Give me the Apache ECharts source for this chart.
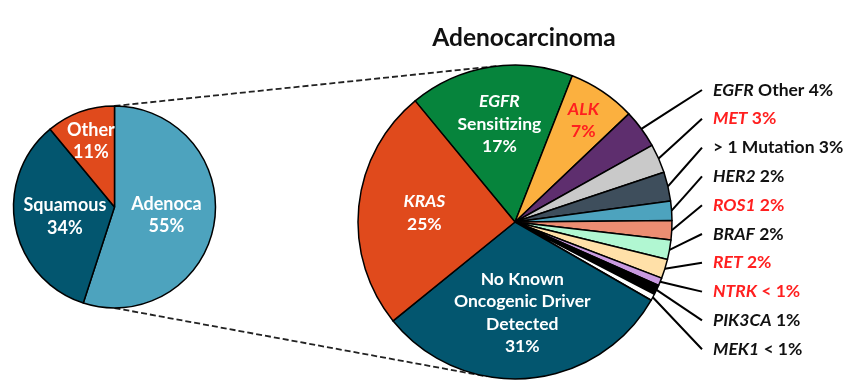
<!DOCTYPE html>
<html><head><meta charset="utf-8">
<script src="https://cdn.jsdelivr.net/npm/echarts@6/dist/echarts.min.js"></script>
<style>html,body{margin:0;padding:0;background:#fff}#c{width:866px;height:388px}</style>
</head><body><div id="c"></div>
<script>
// ---- data ----
const overviewCategories = ['Adenoca', 'Squamous', 'Other'];
const overviewValues = [55, 34, 11];
const overviewLabels = ['55%', '34%', '11%'];

const adenoCategories = ['EGFR Sensitizing', 'ALK', 'EGFR Other', 'MET', '> 1 Mutation', 'HER2', 'ROS1', 'BRAF', 'RET', 'NTRK', 'PIK3CA', 'MEK1', 'No Known Oncogenic Driver Detected', 'KRAS'];
const adenoValues = [17, 7, 4, 3, 3, 2, 2, 2, 2, 0.8, 1, 0.7, 31, 25];
const adenoLabels = ['17%', '7%', '4%', '3%', '3%', '2%', '2%', '2%', '2%', '< 1%', '1%', '< 1%', '31%', '25%'];
const geneNames = ['EGFR', 'ALK', 'MET', 'HER2', 'ROS1', 'BRAF', 'RET', 'NTRK', 'PIK3CA', 'MEK1', 'KRAS'];
const highlightedGenes = ['ALK', 'MET', 'ROS1', 'RET', 'NTRK'];
const insideCategories = ['EGFR Sensitizing', 'ALK', 'No Known Oncogenic Driver Detected', 'KRAS'];
const insideLineBreaks = {
  'EGFR Sensitizing': ['EGFR', 'Sensitizing'],
  'No Known Oncogenic Driver Detected': ['No Known', 'Oncogenic Driver', 'Detected']
};
const chartTitle = 'Adenocarcinoma';

// ---- styles / layout ----
const overviewColors = ['#4DA3BE', '#03566F', '#E04A1C'];
const adenoColors = ['#06843C', '#FBB03F', '#5E2E6E', '#C9C9C9', '#3E4E5C', '#4DA3BE', '#EC8D72', '#B1F7D2', '#FFE0A8', '#C99AE0', '#000000', '#FFFFFF', '#03566F', '#E04A1C'];
const RED = '#FF1F1F';
const FONT = 'Lato';
const LC = [114.5, 207], LR = 101;
const RC = [515, 222], RR = 157;
const RIGHT_START_DEG = -39.5; // clockwise from 12 o'clock
const overviewInsideFactor = [0.52, 0.5, 0.69];
const adenoInsideFactor = {0: 0.63, 1: 0.78, 12: 0.58, 13: 0.58};
const LABEL_X = 713, LINE_END_X = 702, LABEL_TOP = 90, LABEL_STEP = 28.8;

function midAngles(values, startDeg) {
  const total = values.reduce((a, b) => a + b, 0);
  let acc = 0;
  return values.map(v => {
    const m = (startDeg + (acc + v / 2) / total * 360) * Math.PI / 180;
    acc += v;
    return m;
  });
}
const overviewMid = midAngles(overviewValues, 0);
const adenoMid = midAngles(adenoValues, RIGHT_START_DEG);

function fmtLine(text, base) {
  const sp = text.indexOf(' ');
  const first = sp < 0 ? text : text.slice(0, sp);
  const rest = sp < 0 ? '' : text.slice(sp);
  if (geneNames.indexOf(first) >= 0) {
    return '{' + base + 'i|' + first + '}' + (rest ? '{' + base + '|' + rest + '}' : '');
  }
  return '{' + base + '|' + text + '}';
}

const IN_SIZE = 17.5, OUT_SIZE = 17.5, LEFT_SIZE = 18;
const richStyles = {
  w: {color: '#fff', fontFamily: FONT, fontWeight: 'bold', fontSize: IN_SIZE, lineHeight: 22.5},
  wi: {color: '#fff', fontFamily: FONT, fontWeight: 'bold', fontStyle: 'italic', fontSize: IN_SIZE, lineHeight: 22.5},
  x: {color: RED, fontFamily: FONT, fontWeight: 'bold', fontSize: IN_SIZE, lineHeight: 22.5},
  xi: {color: RED, fontFamily: FONT, fontWeight: 'bold', fontStyle: 'italic', fontSize: IN_SIZE, lineHeight: 22.5},
  L: {color: '#fff', fontFamily: FONT, fontWeight: 'bold', fontSize: LEFT_SIZE, lineHeight: 22.5},
  k: {color: '#111', fontFamily: FONT, fontWeight: 'bold', fontSize: OUT_SIZE, lineHeight: 20},
  ki: {color: '#111', fontFamily: FONT, fontWeight: 'bold', fontStyle: 'italic', fontSize: OUT_SIZE, lineHeight: 20},
  r: {color: RED, fontFamily: FONT, fontWeight: 'bold', fontSize: OUT_SIZE, lineHeight: 20},
  ri: {color: RED, fontFamily: FONT, fontWeight: 'bold', fontStyle: 'italic', fontSize: OUT_SIZE, lineHeight: 20}
};

const adenoData = adenoCategories.map((name, i) => {
  const inside = insideCategories.indexOf(name) >= 0;
  const first = name.split(' ')[0];
  const red = highlightedGenes.indexOf(first) >= 0;
  let text;
  if (inside) {
    const base = red ? 'x' : 'w';
    const lines = (insideLineBreaks[name] || [name]).concat([adenoLabels[i]]);
    text = lines.map(l => fmtLine(l, base)).join('\n');
  } else {
    text = fmtLine(name + ' ' + adenoLabels[i], red ? 'r' : 'k');
  }
  const item = {name: name, value: adenoValues[i], itemStyle: {color: adenoColors[i]}, label: {formatter: text}};
  if (inside) {
    item.label.position = 'inside';
    item.labelLine = {show: false};
  }
  return item;
});

const overviewData = overviewCategories.map((name, i) => ({
  name: name, value: overviewValues[i], itemStyle: {color: overviewColors[i]},
  label: {formatter: '{L|' + name + '}\n{L|' + overviewLabels[i] + '}'}
}));

function tangentPoint(P, C, r, sign) {
  const dx = C[0] - P[0], dy = C[1] - P[1];
  const d = Math.hypot(dx, dy);
  const ang = Math.atan2(dy, dx) + sign * Math.asin(r / d);
  const L = Math.sqrt(d * d - r * r);
  return [P[0] + L * Math.cos(ang), P[1] + L * Math.sin(ang)];
}
const upP = [LC[0], LC[1] - LR], loP = [LC[0], LC[1] + LR];
const upT = tangentPoint(upP, RC, RR, -1), loT = tangentPoint(loP, RC, RR, 1);

const chart = echarts.init(document.getElementById('c'), null, {renderer: 'canvas'});
chart.setOption({
  animation: false,
  backgroundColor: '#fff',
  title: {
    text: chartTitle, left: RC[0] + 4, top: 21, textAlign: 'center',
    textStyle: {fontFamily: FONT, fontWeight: 'bold', fontSize: 24.5, color: '#111'}
  },
  graphic: [
    {type: 'line', z: 0, shape: {x1: upP[0], y1: upP[1], x2: upT[0], y2: upT[1]}, style: {stroke: '#222', lineWidth: 1.8, lineDash: [6, 3]}},
    {type: 'line', z: 0, shape: {x1: loP[0], y1: loP[1], x2: loT[0], y2: loT[1]}, style: {stroke: '#222', lineWidth: 1.8, lineDash: [6, 3]}}
  ],
  series: [
    {
      type: 'pie', center: LC, radius: [0, LR], startAngle: 90, clockwise: true,
      avoidLabelOverlap: false, silent: true, z: 3,
      itemStyle: {borderColor: '#000', borderWidth: 1.5},
      label: {show: true, position: 'inside', rich: richStyles},
      labelLine: {show: false},
      labelLayout: function (p) {
        const i = p.dataIndex, m = overviewMid[i], f = overviewInsideFactor[i];
        return {x: LC[0] + f * LR * Math.sin(m), y: LC[1] - f * LR * Math.cos(m), align: 'center', verticalAlign: 'middle'};
      },
      data: overviewData
    },
    {
      type: 'pie', center: RC, radius: [0, RR], startAngle: 90 - RIGHT_START_DEG, clockwise: true,
      avoidLabelOverlap: false, silent: true, z: 3,
      itemStyle: {borderColor: '#000', borderWidth: 1.5},
      label: {show: true, position: 'outside', rich: richStyles},
      labelLine: {show: true, length: 10, length2: 10, smooth: false, lineStyle: {color: '#000', width: 2}},
      labelLayout: function (p) {
        const i = p.dataIndex;
        const name = adenoCategories[i];
        if (insideCategories.indexOf(name) >= 0) {
          const m = adenoMid[i], f = adenoInsideFactor[i];
          return {x: RC[0] + f * RR * Math.sin(m), y: RC[1] - f * RR * Math.cos(m), align: 'center', verticalAlign: 'middle'};
        }
        let slot = 0;
        for (let j = 0; j < i; j++) if (insideCategories.indexOf(adenoCategories[j]) < 0) slot++;
        const y = LABEL_TOP + slot * LABEL_STEP;
        const m = adenoMid[i];
        const a = (p.labelLinePoints && p.labelLinePoints[0]) || [RC[0] + RR * Math.sin(m), RC[1] - RR * Math.cos(m)];
        const end = [LINE_END_X, y];
        const mid = [(a[0] + end[0]) / 2, (a[1] + end[1]) / 2];
        return {x: LABEL_X, y: y, align: 'left', verticalAlign: 'middle', labelLinePoints: [a, mid, end]};
      },
      data: adenoData
    }
  ]
});
</script>
</body></html>
